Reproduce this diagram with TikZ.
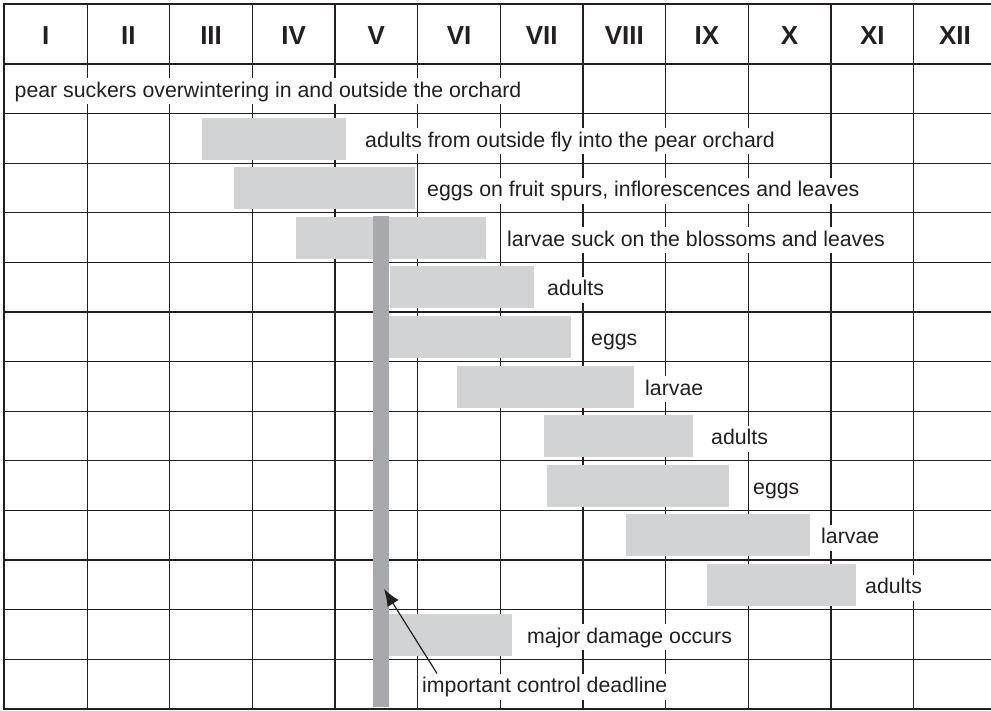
\documentclass[tikz,border=0pt]{standalone}
\usepackage{fontspec}
\setmainfont{Liberation Sans}
\usetikzlibrary{arrows.meta}
\definecolor{ink}{HTML}{231F20}
\definecolor{lbar}{HTML}{D1D3D4}
\definecolor{dbar}{HTML}{A7A9AC}
\begin{document}
\begin{tikzpicture}[x=1pt,y=-1pt,
  gridline/.style={draw=ink,line width=1.3pt},
  frameline/.style={draw=ink,line width=2.6pt},
  lbl/.style={fill=white,anchor=base west,inner xsep=2pt,inner ysep=1pt,
    text height=18pt,text depth=6pt,font=\fontsize{21.3}{25}\selectfont,text=ink},
  hdr/.style={anchor=base,font=\fontsize{26}{30}\selectfont\bfseries,text=ink},
  lightbar/.style={fill=lbar},
  deadbar/.style={fill=dbar},
  pointer/.style={draw=ink,line width=1.2pt,-{Latex[length=17pt,width=13pt]}}]
\useasboundingbox (0,0) rectangle (991,711);
\clip (0,0) rectangle (991,711);
% grid
\foreach \k in {1,...,11}
  \draw[gridline] ({4.5+82.65*\k},4) -- ({4.5+82.65*\k},709);
\foreach \i in {1,...,12}
  \draw[gridline] (4,{64+49.6*\i}) -- (1000,{64+49.6*\i});
\draw[frameline] (4,64) -- (1000,64);
% header
\foreach \n [count=\k from 0] in {I,II,III,IV,V,VI,VII,VIII,IX,X,XI,XII}
  \node[hdr] (h\k) at ({4.5+82.65*\k+41.3},45) {\n};
% light bars
\foreach \xa/\xb/\i in {202/346/1,234/415/2,296/486/3,390/534/4,389/571/5,457/634/6,544/693/7,547/729/8,626/810/9,707/856/10,388/512/11}
  \fill[lightbar] (\xa,{64+49.6*\i+4}) rectangle (\xb,{64+49.6*\i+46});
% control deadline bar
\fill[deadbar] (373,216) rectangle (389,707);
% labels
\node[lbl] (t0) at (12.5,97.5) {pear suckers overwintering in and outside the orchard};
\node[lbl] (t1) at (363,147.1) {adults from outside fly into the pear orchard};
\node[lbl] (t2) at (425,196.7) {eggs on fruit spurs, inflorescences and leaves};
\node[lbl] (t3) at (505,246.3) {larvae suck on the blossoms and leaves};
\node[lbl] (t4) at (545,295.9) {adults};
\node[lbl] (t5) at (589,345.5) {eggs};
\node[lbl] (t6) at (643,395.1) {larvae};
\node[lbl] (t7) at (709,444.7) {adults};
\node[lbl] (t8) at (751,494.3) {eggs};
\node[lbl] (t9) at (819,543.9) {larvae};
\node[lbl] (t10) at (863,593.5) {adults};
\node[lbl] (t11) at (525,643.1) {major damage occurs};
\node[lbl] (t12) at (420,692.7) {important control deadline};
% arrow
\coordinate (tip) at (384,589);
\draw[pointer] ([xshift=17pt]t12.north west) -- (tip);
% frame
\draw[frameline] (1000,4) -- (4,4) -- (4,709) -- (1000,709);
\end{tikzpicture}
\end{document}
